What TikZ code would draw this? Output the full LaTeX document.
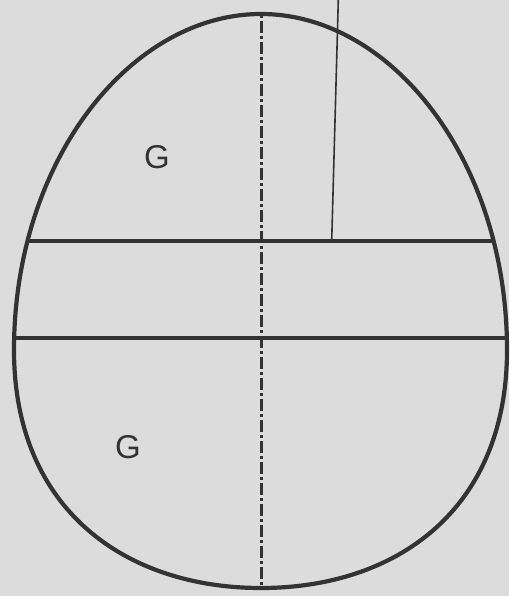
\documentclass[tikz,border=0pt]{standalone}
\usepackage{fontspec}
\setmainfont{Liberation Sans}
\begin{document}
\begin{tikzpicture}[x=1pt,y=-1pt,
  outline/.style={draw=ink,line width=4.2pt},
  cutline/.style={draw=ink,line width=3.4pt},
  axisline/.style={draw=ink,line width=3pt,dash pattern=on 12pt off 3pt on 3pt off 3pt},
  leader/.style={draw=ink,line width=1.6pt},
  lbl/.style={text=ink,font=\fontsize{33}{33}\selectfont,inner sep=0pt}]
\definecolor{ink}{HTML}{333333}
\definecolor{paper}{HTML}{DCDCDC}
\fill[paper] (0,0) rectangle (509,596);
\useasboundingbox (0,0) rectangle (509,596);
\def\eggpath{(261,14) .. controls (391,14) and (507,160) .. (507,350)
  .. controls (507,510) and (396,588) .. (261,588)
  .. controls (126,588) and (14,510) .. (14,350)
  .. controls (14,160) and (131,14) .. (261,14) -- cycle}
\begin{scope}
  \clip \eggpath;
  \draw[cutline] (0,241) -- (509,241);
  \draw[cutline] (0,338) -- (509,338);
  \draw[axisline] (261,0) -- (261,596);
\end{scope}
\coordinate (ltop) at (338.3,0);
\coordinate (lbot) at (331.7,241);
\draw[leader] (ltop) -- (lbot);
\draw[outline] \eggpath;
\node[lbl] (g1) at (157,157) {G};
\node[lbl] (g2) at (128,447) {G};
\end{tikzpicture}
\end{document}
